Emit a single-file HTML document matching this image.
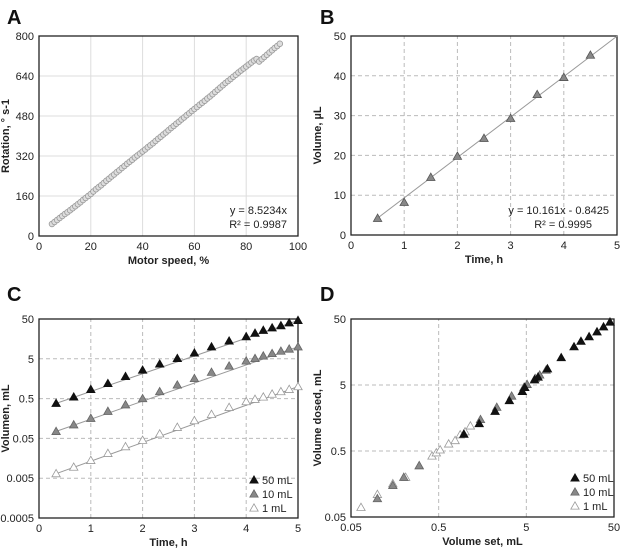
<!DOCTYPE html>
<html><head><meta charset="utf-8">
<style>
html,body{margin:0;padding:0;background:#fff;}
svg{display:block;font-family:"Liberation Sans",Arial,sans-serif;}
.tk{font-size:11px;fill:#222;}
.at{font-size:11px;font-weight:bold;fill:#222;}
.pl{font-size:20px;font-weight:bold;fill:#111;}
</style></head>
<body>
<svg id="fig" width="624" height="552" viewBox="0 0 624 552" xmlns="http://www.w3.org/2000/svg"></svg>
<script>
// ---- Panel A data ----
const aX = [5,6,7,8,9,10,11,12,13,14,15,16,17,18,19,20,21,22,23,24,25,26,27,28,29,30,31,32,33,34,35,36,37,38,39,40,41,42,43,44,45,46,47,48,49,50,51,52,53,54,55,56,57,58,59,60,61,62,63,64,65,66,67,68,69,70,71,72,73,74,75,76,77,78,79,80,81,82,83,84,85,86,87,88,89,90,91,92,93];
const aY = [48,56,64,72,80,88,95,103,111,119,127,135,144,152,160,168,178,187,195,203,212,221,229,238,246,255,263,272,280,289,297,305,314,322,330,338,346,355,363,371,380,389,397,406,414,423,432,440,449,457,466,474,483,491,500,508,516,525,533,541,550,558,567,576,585,594,603,612,620,628,637,645,654,662,670,678,686,694,702,708,698,707,716,725,734,743,752,760,769];
const aXTicks = [0,20,40,60,80,100];
const aYTicks = [0,160,320,480,640,800];
// ---- Panel B data ----
const bX = [0.5,1,1.5,2,2.5,3,3.5,4,4.5];
const bY = [4.2,8.2,14.5,19.8,24.3,29.3,35.3,39.6,45.2];
const bFit = [10.161,-0.8425];
const bXTicks = [0,1,2,3,4,5];
const bYTicks = [0,10,20,30,40,50];
// ---- Panel C data ----
const cT = [0.33,0.67,1,1.33,1.67,2,2.33,2.67,3,3.33,3.67,4,4.17,4.33,4.5,4.67,4.83,5];
const c50 = [0.38,0.55,0.85,1.2,1.8,2.6,3.7,5.1,7,10,14,18,22,26,30,34,40,46];
const c10 = [0.075,0.11,0.16,0.24,0.35,0.5,0.75,1.1,1.6,2.3,3.3,4.4,5.1,5.9,6.8,7.8,8.8,10];
const c1 = [0.0065,0.0095,0.014,0.021,0.031,0.045,0.065,0.095,0.14,0.2,0.3,0.42,0.48,0.55,0.65,0.75,0.85,1.0];
const cXTicks = [0,1,2,3,4,5];
const cYTicks = [0.0005,0.005,0.05,0.5,5,50];
const cYLabels = ["0.0005","0.005","0.05","0.5","5","50"];
// ---- Panel D data ----
const d50x = [0.97,1.45,2.2,3.2,4.5,4.8,6.2,6.8,8.7,12.5,17.5,21,26,32,38,45];
const d50y = [0.9,1.3,2.0,2.9,4.0,4.6,6.0,6.6,8.8,13,19,23,27,32,38,45];
const d10x = [0.1,0.15,0.2,0.3,1.5,2.3,3.4,4.7,5.1,6.3,7.1,8.4];
const d10y = [0.095,0.15,0.2,0.3,1.5,2.3,3.4,4.6,5.1,6.3,7.1,8.4];
const d1x = [0.065,0.1,0.15,0.21,0.3,0.42,0.47,0.52,0.65,0.77,0.88,1.0,1.15];
const d1y = [0.07,0.11,0.16,0.2,0.3,0.42,0.47,0.52,0.64,0.72,0.88,0.98,1.2];
const dTicks = [0.05,0.5,5,50];
const dLabels = ["0.05","0.5","5","50"];

const NS="http://www.w3.org/2000/svg";
const svg=document.getElementById('fig');
function mk(tag,attrs,parent){const e=document.createElementNS(NS,tag);for(const k in attrs)e.setAttribute(k,attrs[k]);(parent||svg).appendChild(e);return e;}
function lin(d0,d1,r0,r1){return v=>r0+(v-d0)/(d1-d0)*(r1-r0);}
function lg(d0,d1,r0,r1){return v=>r0+(Math.log10(v)-Math.log10(d0))/(Math.log10(d1)-Math.log10(d0))*(r1-r0);}
function txt(x,y,s,cls,anchor,parent){const t=mk('text',{x:x,y:y,class:cls,'text-anchor':anchor||'middle'},parent);t.textContent=s;return t;}

function panel(p){
  const g=mk('g',{});
  
  
  const L=txt(p.lx,p.ly,p.letter,'pl','start',g);
  
  
  const grid=mk('g',{},g);
  
  
  const dash=p.dashed?'4,3':'none';
  const gc=p.dashed?'#bbb':'#ddd';
  p.xt.forEach((v,i)=>{const x=p.sx(v);
    if(i>0&&i<p.xt.length-1) mk('line',{x1:x,x2:x,y1:p.y0,y2:p.y1,stroke:gc,'stroke-dasharray':dash,'stroke-width':1},grid);
    const t=txt(x,p.y0+14,p.xl?p.xl[i]:String(v),'tk','middle',g);
    
    
  });
  p.yt.forEach((v,i)=>{const y=p.sy(v);
    if(i>0&&i<p.yt.length-1) mk('line',{x1:p.x0,x2:p.x1,y1:y,y2:y,stroke:gc,'stroke-dasharray':dash,'stroke-width':1},grid);
    const t=txt(p.x0-5,y+4,p.yl?p.yl[i]:String(v),'tk','end',g);
    
    
  });
  const fr=mk('rect',{x:p.x0,y:p.y1,width:p.x1-p.x0,height:p.y0-p.y1,fill:'none',stroke:'#222','stroke-width':1.3},g);
  
  
  const xt=txt((p.x0+p.x1)/2,p.y0+28,p.xtitle,'at','middle',g);
  
  
  const cy=(p.y0+p.y1)/2;
  const yt=txt(p.x0-30,cy,p.ytitle,'at','middle',g);
  yt.setAttribute('transform','rotate(-90 '+(p.x0-30)+' '+cy+')');
  
  
  return g;
}
function tri(g,x,y,fill,stroke){const s=4.2;const e=mk('path',{d:`M${x},${y-s}L${x+s},${y+s*0.75}L${x-s},${y+s*0.75}Z`,fill:fill,stroke:stroke,'stroke-width':0.8},g);return e;}

// Panel A
(function(){
  const x0=39,x1=298,y0=236,y1=36;
  const sx=lin(0,100,x0,x1), sy=lin(0,800,y0,y1);
  const g=panel({name:'panel-a',letter:'A',lx:7,ly:24,x0,x1,y0,y1,sx,sy,xt:aXTicks,yt:aYTicks,dashed:false,xtitle:'Motor speed, %',ytitle:'Rotation, ° s-1'});
  aX.forEach((v,i)=>{const c=mk('circle',{cx:sx(v),cy:sy(aY[i]),r:2.8,fill:'#ddd',stroke:'#999','stroke-width':0.8},g);
    
    });
  const e1=txt(287,214,'y = 8.5234x','tk','end',g);
  
  
  const e2=txt(287,228,'R² = 0.9987','tk','end',g);
  
  
})();

// Panel B
(function(){
  const x0=351,x1=617,y0=235,y1=36;
  const sx=lin(0,5,x0,x1), sy=lin(0,50,y0,y1);
  const g=panel({name:'panel-b',letter:'B',lx:320,ly:24,x0,x1,y0,y1,sx,sy,xt:bXTicks,yt:bYTicks,dashed:true,xtitle:'Time, h',ytitle:'Volume, µL'});
  const xa=0.5,xb=(50-bFit[1])/bFit[0];
  const tl=mk('line',{x1:sx(xa),y1:sy(bFit[0]*xa+bFit[1]),x2:sx(xb),y2:sy(bFit[0]*xb+bFit[1]),stroke:'#999','stroke-width':1},g);
  
  
  bX.forEach((v,i)=>{const t=tri(g,sx(v),sy(bY[i]),'#888','#555');
    
    });
  const e1=txt(609,214,'y = 10.161x - 0.8425','tk','end',g);
  
  
  const e2=txt(592,228,'R² = 0.9995','tk','end',g);
  
  
})();

function legend(g,x,y){
  const items=[['50 mL','#111','#111'],['10 mL','#888','#666'],['1 mL','#fff','#999']];
  items.forEach((it,i)=>{const lg=mk('g',{},g);
    
    
    tri(lg,x,y+i*14-3,it[1],it[2]);
    txt(x+8,y+i*14+1,it[0],'tk','start',lg);});
}

// Panel C
(function(){
  const x0=39,x1=298,y0=518,y1=319;
  const sx=lin(0,5,x0,x1), sy=lg(0.0005,50,y0,y1);
  const g=panel({name:'panel-c',letter:'C',lx:7,ly:301,x0,x1,y0,y1,sx,sy,xt:cXTicks,yt:cYTicks,yl:cYLabels,dashed:true,xtitle:'Time, h',ytitle:'Volumen, mL'});
  [[c50,'#111','#111','series-50ml'],[c10,'#888','#666','series-10ml'],[c1,'#fff','#999','series-1ml']].forEach(s=>{
    const n=cT.length-1;
    const l=mk('line',{x1:sx(cT[0]),y1:sy(s[0][0]),x2:sx(cT[n]),y2:sy(s[0][n]),stroke:'#999','stroke-width':1},g);
    
    
    cT.forEach((t,i)=>{const m=tri(g,sx(t),sy(s[0][i]),s[1],s[2]);
      
      });
  });
  legend(g,254,483);
})();

// Panel D
(function(){
  const x0=351,x1=614,y0=517,y1=319;
  const sx=lg(0.05,50,x0,x1), sy=lg(0.05,50,y0,y1);
  const g=panel({name:'panel-d',letter:'D',lx:320,ly:301,x0,x1,y0,y1,sx,sy,xt:dTicks,xl:dLabels,yt:dTicks,yl:dLabels,dashed:true,xtitle:'Volume set, mL',ytitle:'Volume dosed, mL'});
  [[d1x,d1y,'#fff','#999','series-1ml'],[d10x,d10y,'#888','#666','series-10ml'],[d50x,d50y,'#111','#111','series-50ml']].forEach(s=>{
    s[0].forEach((v,i)=>{const m=tri(g,sx(v),sy(s[1][i]),s[2],s[3]);
      
      });
  });
  legend(g,575,481);
})();
</script>
</body></html>
